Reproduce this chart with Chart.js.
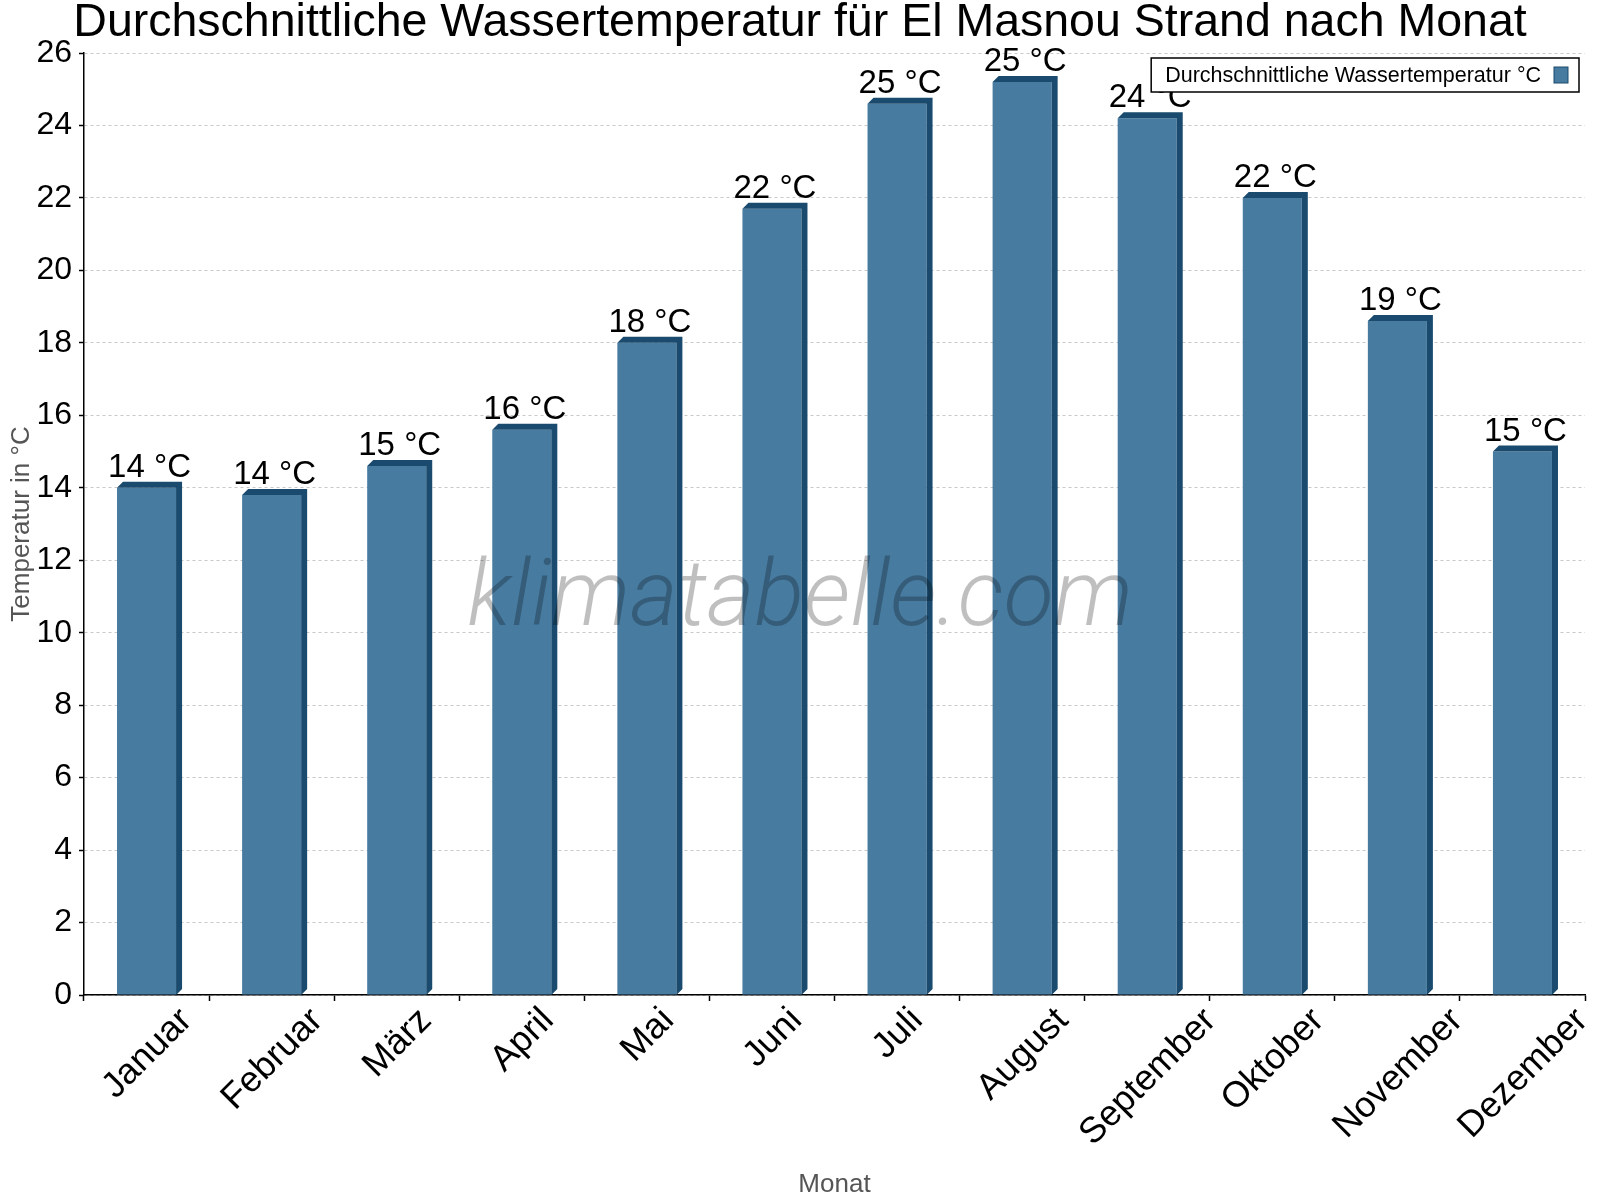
<!DOCTYPE html>
<html lang="de">
<head>
<meta charset="utf-8">
<title>Wassertemperatur El Masnou Strand</title>
<script src="https://cdn.jsdelivr.net/npm/chart.js@4.4.1/dist/chart.umd.min.js"></script>
<style>
	html, body { margin: 0; padding: 0; background: #fff; }
	#chart { display: block; }
</style>
</head>
<body>
<canvas id="chart" width="1600" height="1200"></canvas>
<script>
// Werte (°C)
const months = ['Januar', 'Februar', 'März', 'April', 'Mai', 'Juni', 'Juli', 'August', 'September', 'Oktober', 'November', 'Dezember'];
const waterTemp = [14.0, 13.8, 14.6, 15.6, 18.0, 21.7, 24.6, 25.2, 24.2, 22.0, 18.6, 15.0];
const yMin = 0, yMax = 26, yStep = 2;

const titleText = 'Durchschnittliche Wassertemperatur für El Masnou Strand nach Monat';
const seriesLabel = 'Durchschnittliche Wassertemperatur °C';
const watermarkText = 'klimatabelle.com';

const frontColor = '#477ba0';
const darkColor = '#1a4b6e';
const fontFamily = '"Liberation Sans", Arial, sans-serif';

Chart.defaults.font.family = fontFamily;
Chart.defaults.color = '#000';

// Seitenfläche und Deckel der Säulen (3D-Optik)
const bar3d = {
	id: 'bar3d',
	afterDatasetsDraw(chart) {
		const ctx = chart.ctx;
		const base = chart.scales.y.getPixelForValue(0);
		const d = 6;
		ctx.save();
		ctx.fillStyle = darkColor;
		chart.getDatasetMeta(0).data.forEach(bar => {
			const x0 = bar.x - bar.width / 2;
			const x1 = bar.x + bar.width / 2;
			const top = bar.y;
			ctx.beginPath();
			ctx.moveTo(x0, top);
			ctx.lineTo(x0 + d, top - d);
			ctx.lineTo(x1 + d, top - d);
			ctx.lineTo(x1 + d, base - d);
			ctx.lineTo(x1, base);
			ctx.lineTo(x1, top);
			ctx.closePath();
			ctx.fill();
		});
		ctx.restore();
	}
};

const watermark = {
	id: 'watermark',
	afterDatasetsDraw(chart) {
		const ctx = chart.ctx;
		const area = chart.chartArea;
		ctx.save();
		ctx.font = 'italic 300 92px Roboto, "Liberation Sans", sans-serif';
		ctx.fillStyle = 'rgba(0, 0, 0, 0.25)';
		ctx.textAlign = 'center';
		ctx.textBaseline = 'alphabetic';
		ctx.fillText(watermarkText, chart.width / 2, area.top + (area.bottom - area.top) * 0.607);
		ctx.restore();
	}
};

const valueLabels = {
	id: 'valueLabels',
	afterDatasetsDraw(chart) {
		const ctx = chart.ctx;
		ctx.save();
		ctx.font = '33px ' + fontFamily;
		ctx.fillStyle = '#000';
		ctx.textAlign = 'center';
		ctx.textBaseline = 'alphabetic';
		chart.getDatasetMeta(0).data.forEach((bar, i) => {
			ctx.fillText(Math.round(waterTemp[i]) + ' °C', bar.x + 3, bar.y - 11);
		});
		ctx.restore();
	}
};

// Monatsnamen um 45° gedreht, gedrehte Box mittig unter dem Tick und oben bündig
const monthLabels = {
	id: 'monthLabels',
	afterDraw(chart) {
		const ctx = chart.ctx;
		const scale = chart.scales.x;
		const h = 28;
		ctx.save();
		ctx.font = '36px ' + fontFamily;
		ctx.fillStyle = '#000';
		ctx.textAlign = 'center';
		ctx.textBaseline = 'middle';
		months.forEach((name, i) => {
			const len = ctx.measureText(name).width;
			const cx = scale.getPixelForTick(i) + 1;
			const cy = scale.top + 10 + (len + h) * Math.SQRT1_2 / 2;
			ctx.save();
			ctx.translate(cx, cy);
			ctx.rotate(-Math.PI / 4);
			ctx.fillText(name, 0, 0);
			ctx.restore();
		});
		ctx.restore();
	}
};

// Legende mit Rahmen, Kästchen rechts vom Text
const boxLegend = {
	id: 'boxLegend',
	afterDraw(chart) {
		const ctx = chart.ctx;
		const area = chart.chartArea;
		ctx.save();
		ctx.font = '21.5px ' + fontFamily;
		const textW = ctx.measureText(seriesLabel).width;
		const w = 14 + textW + 13 + 14 + 11;
		const h = 34;
		const right = area.right - 6;
		const left = right - w;
		const top = area.top + 5;
		ctx.fillStyle = '#fff';
		ctx.fillRect(left, top, w, h);
		ctx.strokeStyle = '#000';
		ctx.lineWidth = 1.5;
		ctx.strokeRect(left, top, w, h);
		ctx.fillStyle = '#000';
		ctx.textBaseline = 'middle';
		ctx.fillText(seriesLabel, left + 14, top + h / 2 + 1);
		ctx.fillStyle = frontColor;
		ctx.fillRect(right - 25, top + h / 2 - 8, 14, 16);
		ctx.strokeStyle = darkColor;
		ctx.lineWidth = 1;
		ctx.strokeRect(right - 25, top + h / 2 - 8, 14, 16);
		ctx.restore();
	}
};

const chart = new Chart(document.getElementById('chart'), {
	type: 'bar',
	data: {
		labels: months,
		datasets: [{
			label: seriesLabel,
			data: waterTemp,
			backgroundColor: frontColor,
			borderWidth: 0,
			categoryPercentage: 1,
			barPercentage: 0.472
		}]
	},
	options: {
		responsive: false,
		devicePixelRatio: 1,
		animation: false,
		layout: { padding: 0 },
		plugins: {
			legend: { display: false },
			tooltip: { enabled: false },
			title: {
				display: true,
				text: titleText,
				color: '#000',
				font: { size: 46.5, weight: 'normal', lineHeight: 1 },
				padding: { top: 0, bottom: 6.5 }
			}
		},
		scales: {
			x: {
				afterFit(scale) { scale.height = 205; },
				border: { color: '#000', width: 1.5 },
				grid: {
					display: true,
					drawOnChartArea: false,
					drawTicks: true,
					offset: true,
					tickLength: 6,
					tickColor: '#000',
					tickWidth: 1.5
				},
				ticks: { display: false, autoSkip: false },
				title: {
					display: true,
					text: 'Monat',
					color: '#555',
					font: { size: 26 },
					padding: { top: 0, bottom: 0 }
				}
			},
			y: {
				min: yMin,
				max: yMax,
				afterFit(scale) { scale.width = 84; },
				border: { color: '#000', width: 1.5, dash: [3, 3] },
				grid: {
					color: '#c8c8c8',
					lineWidth: 1,
					tickLength: 5,
					tickColor: '#000',
					tickWidth: 1.5,
					tickBorderDash: []
				},
				ticks: {
					stepSize: yStep,
					padding: 7,
					font: { size: 32 },
					color: '#000'
				},
				title: {
					display: true,
					text: 'Temperatur in °C',
					color: '#555',
					font: { size: 26 },
					padding: { top: 6, bottom: 0 }
				}
			},
			// leerer Rand rechts, damit der Titel über der ganzen Breite zentriert bleibt
			yRight: {
				position: 'right',
				afterFit(scale) { scale.width = 15; },
				grid: { display: false },
				border: { display: false },
				ticks: { display: false }
			}
		}
	},
	plugins: [bar3d, watermark, valueLabels, monthLabels, boxLegend]
});
</script>
</body>
</html>
